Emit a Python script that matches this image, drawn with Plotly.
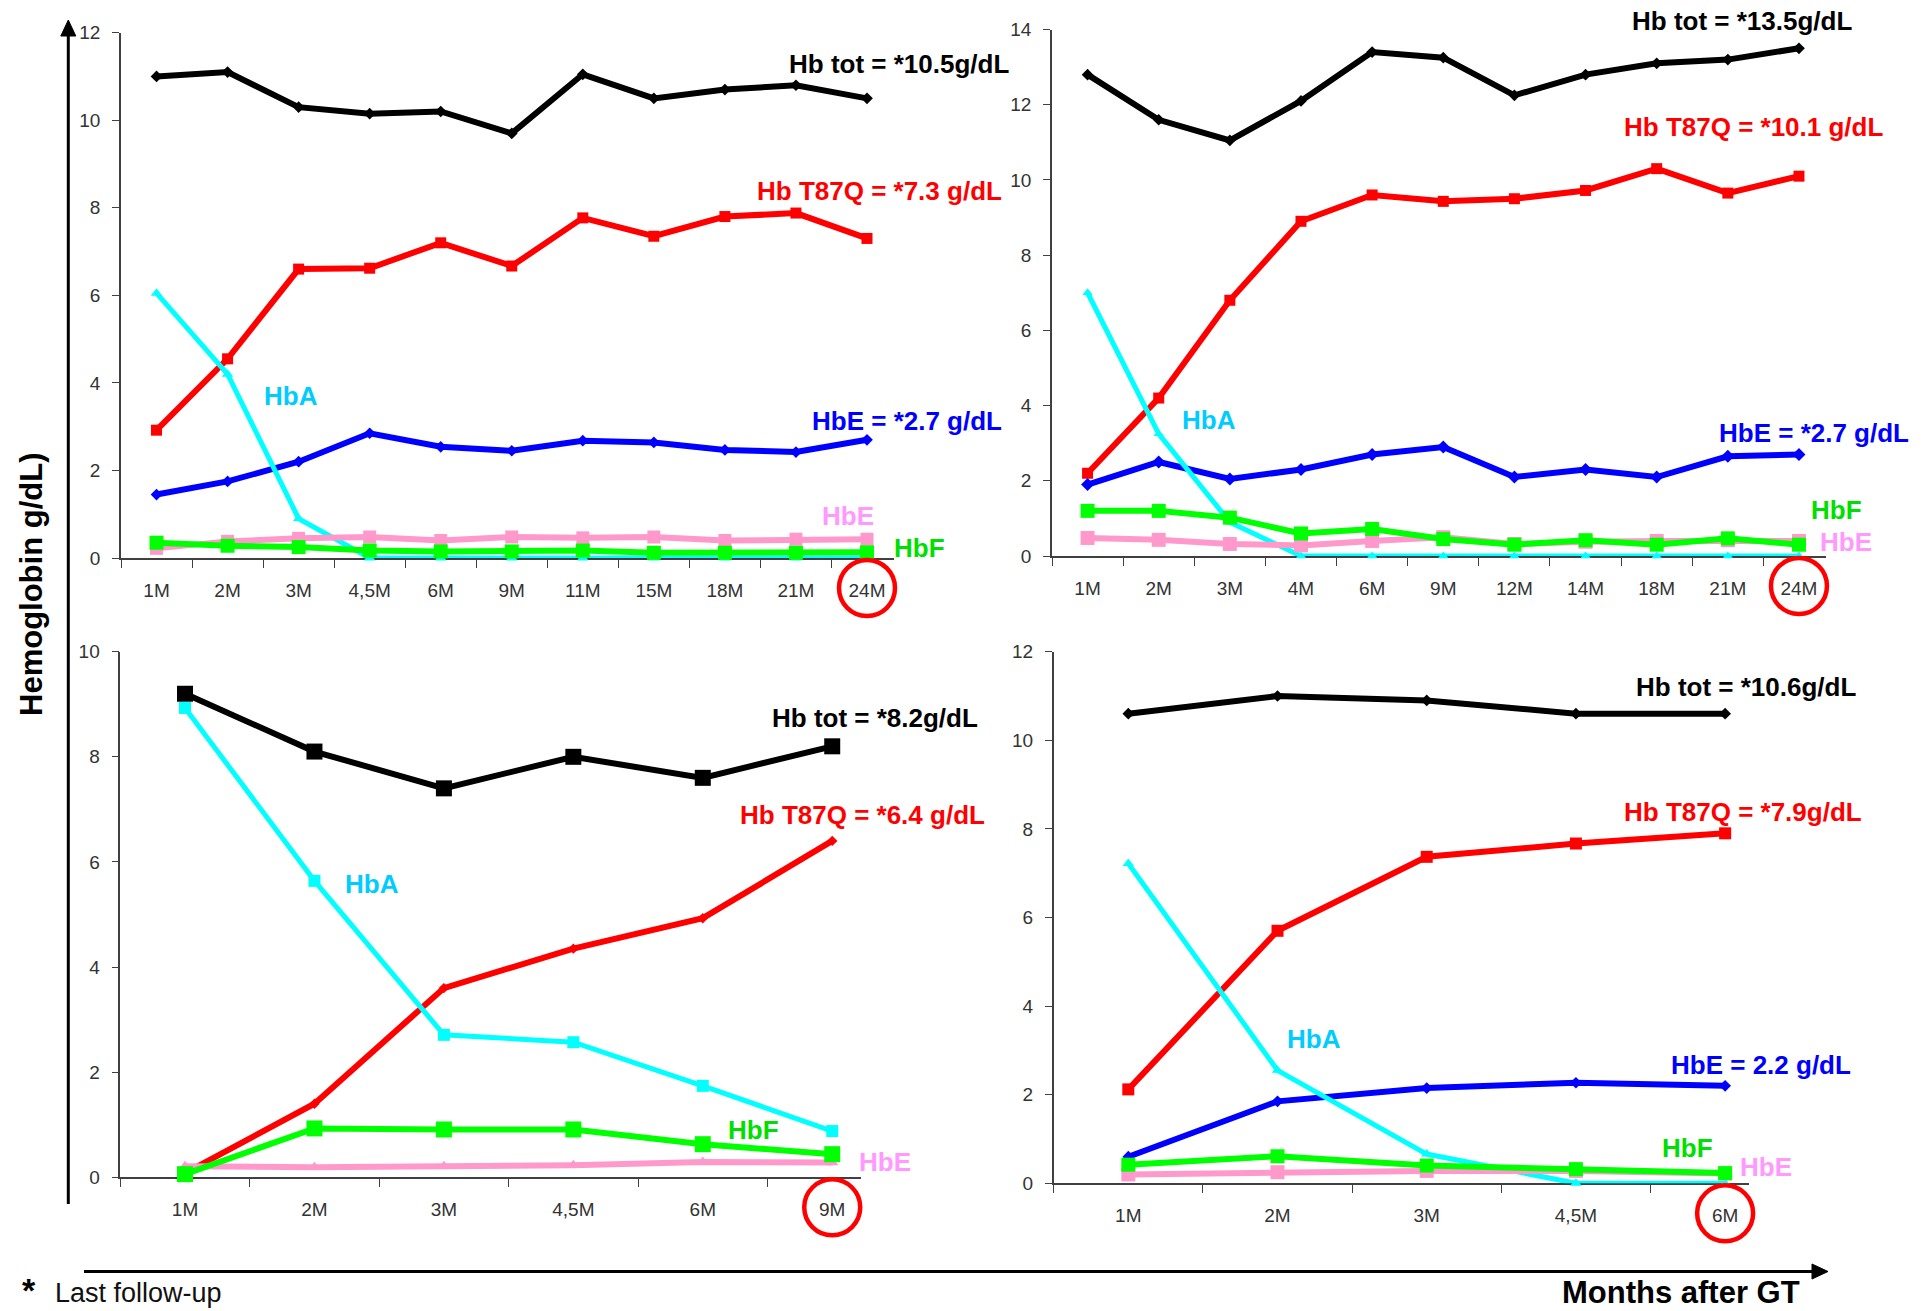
import plotly.graph_objects as go

W, H = 1928, 1311
FONT = "Liberation Sans, Arial, Helvetica, sans-serif"

# ---------------- data: hemoglobin fractions (g/dL) per follow-up visit ----------------
# Patient 1
p1_months = ["1M", "2M", "3M", "4,5M", "6M", "9M", "11M", "15M", "18M", "21M", "24M"]
p1_hb_tot = [11.0, 11.1, 10.3, 10.15, 10.2, 9.7, 11.05, 10.5, 10.7, 10.8, 10.5]
p1_hb_t87q = [2.92, 4.55, 6.6, 6.62, 7.2, 6.67, 7.77, 7.35, 7.8, 7.88, 7.3]
p1_hbe = [1.45, 1.75, 2.2, 2.85, 2.54, 2.45, 2.68, 2.64, 2.47, 2.42, 2.7]
p1_hba = [6.05, 4.2, 0.9, 0.0, 0.0, 0.0, 0.0, 0.0, 0.0, 0.0, 0.0]
p1_hbe_minor = [0.22, 0.38, 0.45, 0.48, 0.4, 0.48, 0.46, 0.48, 0.4, 0.43, 0.43]
p1_hbf = [0.35, 0.28, 0.25, 0.17, 0.15, 0.15, 0.17, 0.12, 0.12, 0.12, 0.13]

# Patient 2
p2_months = ["1M", "2M", "3M", "4M", "6M", "9M", "12M", "14M", "18M", "21M", "24M"]
p2_hb_tot = [12.8, 11.6, 11.05, 12.1, 13.4, 13.25, 12.25, 12.8, 13.1, 13.2, 13.5]
p2_hb_t87q = [2.2, 4.2, 6.8, 8.9, 9.6, 9.43, 9.5, 9.72, 10.3, 9.65, 10.1]
p2_hbe = [1.9, 2.5, 2.05, 2.3, 2.7, 2.9, 2.1, 2.3, 2.1, 2.65, 2.7]
p2_hba = [7.0, 3.25, 0.9, 0.0, 0.0, 0.0, 0.0, 0.0, 0.0, 0.0, 0.0]
p2_hbe_minor = [0.48, 0.43, 0.32, 0.28, 0.4, 0.5, 0.32, 0.38, 0.4, 0.42, 0.4]
p2_hbf = [1.2, 1.2, 1.02, 0.6, 0.72, 0.45, 0.3, 0.42, 0.3, 0.47, 0.3]

# Patient 3
p3_months = ["1M", "2M", "3M", "4,5M", "6M", "9M"]
p3_hb_tot = [9.2, 8.1, 7.4, 8.0, 7.6, 8.2]
p3_hb_t87q = [0.08, 1.4, 3.6, 4.35, 4.93, 6.4]
p3_hba = [8.93, 5.64, 2.71, 2.57, 1.74, 0.88]
p3_hbe_minor = [0.21, 0.19, 0.21, 0.23, 0.29, 0.28]
p3_hbf = [0.06, 0.93, 0.91, 0.91, 0.63, 0.44]

# Patient 4
p4_months = ["1M", "2M", "3M", "4,5M", "6M"]
p4_hb_tot = [10.6, 11.0, 10.9, 10.6, 10.6]
p4_hb_t87q = [2.12, 5.7, 7.37, 7.67, 7.9]
p4_hbe = [0.6, 1.85, 2.15, 2.27, 2.2]
p4_hba = [7.22, 2.55, 0.66, 0.0, 0.0]
p4_hbe_minor = [0.2, 0.25, 0.28, 0.28, 0.22]
p4_hbf = [0.42, 0.61, 0.4, 0.32, 0.23]

# ---------------- styling ----------------
LINE = {"tot": "#000000", "t87q": "#ff0000", "hbe": "#0000ff",
        "hba": "#00ffff", "minor": "#ff99cc", "hbf": "#00ff00"}
TEXT = {"tot": "#000000", "t87q": "#ff0000", "hbe": "#0000ff",
        "hba": "#00ccff", "minor": "#ff99ff", "hbf": "#00e000"}
AXIS_C = "#404040"


def px(x):
    return x / W


def py(y):
    return 1 - y / H


panels = [
    dict(months=p1_months, ymax=12,
         series=[("tot", p1_hb_tot, "diamond", 9), ("t87q", p1_hb_t87q, "square", 11),
                 ("hbe", p1_hbe, "diamond", 9), ("hba", p1_hba, "triangle-up", 10),
                 ("minor", p1_hbe_minor, "square", 13), ("hbf", p1_hbf, "square", 14)],
         xdom=(121, 894), ydom=(558, 32.7), xend=10.38,
         labels=[("tot", "Hb tot = *{:.1f}g/dL", 787, 64), ("t87q", "Hb T87Q = *{:.1f} g/dL", 755, 191),
                 ("hba", "HbA", 262, 396), ("hbe", "HbE = *{:.1f} g/dL", 810, 421),
                 ("minor", "HbE", 820, 516), ("hbf", "HbF", 892, 548)]),
    dict(months=p2_months, ymax=14,
         series=[("tot", p2_hb_tot, "diamond", 9), ("t87q", p2_hb_t87q, "square", 11),
                 ("hbe", p2_hbe, "diamond", 10), ("hba", p2_hba, "triangle-up", 9),
                 ("minor", p2_hbe_minor, "square", 14), ("hbf", p2_hbf, "square", 14)],
         xdom=(1052, 1826), ydom=(556, 29.5), xend=10.38,
         labels=[("tot", "Hb tot = *{:.1f}g/dL", 1630, 21), ("t87q", "Hb T87Q = *{:.1f} g/dL", 1622, 127),
                 ("hba", "HbA", 1180, 420), ("hbe", "HbE = *{:.1f} g/dL", 1717, 433),
                 ("hbf", "HbF", 1809, 510), ("minor", "HbE", 1818, 542)]),
    dict(months=p3_months, ymax=10,
         series=[("tot", p3_hb_tot, "square", 16), ("t87q", p3_hb_t87q, "diamond", 8),
                 ("hba", p3_hba, "square", 12),
                 ("minor", p3_hbe_minor, "triangle-up", 11), ("hbf", p3_hbf, "square", 16)],
         xdom=(120.3, 860.7), ydom=(1177.3, 651.7), xend=5.22,
         labels=[("tot", "Hb tot = *{:.1f}g/dL", 770, 718), ("t87q", "Hb T87Q = *{:.1f} g/dL", 738, 815),
                 ("hba", "HbA", 343, 884), ("hbf", "HbF", 726, 1130), ("minor", "HbE", 857, 1162)]),
    dict(months=p4_months, ymax=12,
         series=[("tot", p4_hb_tot, "diamond", 9), ("t87q", p4_hb_t87q, "square", 12),
                 ("hbe", p4_hbe, "diamond", 9), ("hba", p4_hba, "triangle-up", 10),
                 ("minor", p4_hbe_minor, "square", 14), ("hbf", p4_hbf, "square", 14)],
         xdom=(1053.7, 1749), ydom=(1183.3, 651.7), xend=4.16,
         labels=[("tot", "Hb tot = *{:.1f}g/dL", 1634, 687), ("t87q", "Hb T87Q = *{:.1f}g/dL", 1622, 812),
                 ("hba", "HbA", 1285, 1039), ("hbe", "HbE = {:.1f} g/dL", 1669, 1065),
                 ("hbf", "HbF", 1660, 1148), ("minor", "HbE", 1738, 1167)]),
]

fig = go.Figure()
annotations = []
shapes = []

for i, p in enumerate(panels, start=1):
    xa = "x" if i == 1 else f"x{i}"
    ya = "y" if i == 1 else f"y{i}"
    values = {}
    for key, ys, sym, msize in p["series"]:
        values[key] = ys
        fig.add_trace(go.Scatter(
            x=p["months"], y=ys, xaxis=xa, yaxis=ya, mode="lines+markers",
            line=dict(color=LINE[key], width=5 if key == "hba" else 6),
            marker=dict(symbol=sym, size=msize, color=LINE[key], line=dict(width=0)),
            cliponaxis=False, showlegend=False, hoverinfo="skip"))

    x0r, x1r = -0.5, p["xend"]
    fig.update_layout(**{
        ("xaxis" if i == 1 else f"xaxis{i}"): dict(
            domain=[px(p["xdom"][0]), px(p["xdom"][1])], anchor=ya,
            type="category", range=[x0r, x1r], tickson="boundaries",
            showline=True, linecolor=AXIS_C, linewidth=1.5, ticks="outside",
            ticklen=8, tickwidth=1.2, tickcolor=AXIS_C, showgrid=False, zeroline=False,
            tickfont=dict(family=FONT, size=19, color="#333333"), ticklabelstandoff=14,
            layer="below traces", fixedrange=True, automargin=False),
        ("yaxis" if i == 1 else f"yaxis{i}"): dict(
            domain=[py(p["ydom"][0]), py(p["ydom"][1])], anchor=xa,
            range=[0, p["ymax"]], tickvals=list(range(0, p["ymax"] + 1, 2)),
            showline=True, linecolor=AXIS_C, linewidth=1.5, ticks="outside",
            ticklen=7, tickwidth=1.2, tickcolor=AXIS_C, showgrid=False, zeroline=False,
            tickfont=dict(family=FONT, size=19, color="#333333"), ticklabelstandoff=8,
            layer="below traces", fixedrange=True, automargin=False),
    })

    # series labels, values taken from the last visit
    for key, fmt, lx, ly in p["labels"]:
        text = fmt.format(values[key][-1]) if "{" in fmt else fmt
        annotations.append(dict(
            text=f"<b>{text}</b>", x=px(lx), y=py(ly), xref="paper", yref="paper",
            xanchor="left", yanchor="middle", showarrow=False,
            font=dict(family=FONT, size=26, color=TEXT[key])))

    # red ring around the last follow-up tick label
    last = len(p["months"]) - 1
    shapes.append(dict(
        type="circle", xref=f"{xa} domain", yref=f"{ya} domain",
        xsizemode="pixel", ysizemode="pixel",
        xanchor=(last - x0r) / (x1r - x0r), yanchor=0,
        x0=-28, x1=28, y0=-58, y1=-2,
        line=dict(color="#ff0000", width=4.5)))

# overall axes with arrow heads
ARW = "#000000"
shapes += [
    dict(type="line", xref="paper", yref="paper", x0=px(68.3), x1=px(68.3), y0=py(1204), y1=py(34),
         line=dict(color=ARW, width=3)),
    dict(type="path", xref="paper", yref="paper",
         path=f"M{px(60.8)},{py(36)} L{px(68.3)},{py(20)} L{px(75.8)},{py(36)} Z",
         fillcolor=ARW, line=dict(color=ARW, width=1)),
    dict(type="line", xref="paper", yref="paper", x0=px(84), x1=px(1814), y0=py(1271.5), y1=py(1271.5),
         line=dict(color=ARW, width=3)),
    dict(type="path", xref="paper", yref="paper",
         path=f"M{px(1812)},{py(1264)} L{px(1828)},{py(1271.5)} L{px(1812)},{py(1279)} Z",
         fillcolor=ARW, line=dict(color=ARW, width=1)),
]

annotations += [
    dict(text="<b>Hemoglobin g/dL)</b>", x=px(31), y=py(585), xref="paper", yref="paper",
         textangle=-90, xanchor="center", yanchor="middle", showarrow=False,
         font=dict(family=FONT, size=31, color="#000000")),
    dict(text="<b>Months after GT</b>", x=px(1802), y=py(1292), xref="paper", yref="paper",
         xanchor="right", yanchor="middle", showarrow=False,
         font=dict(family=FONT, size=31, color="#000000")),
    dict(text="<b>*</b>", x=px(29), y=py(1290), xref="paper", yref="paper",
         xanchor="center", yanchor="middle", showarrow=False,
         font=dict(family=FONT, size=34, color="#000000")),
    dict(text="Last follow-up", x=px(53), y=py(1293), xref="paper", yref="paper",
         xanchor="left", yanchor="middle", showarrow=False,
         font=dict(family=FONT, size=27, color="#111111")),
]

fig.update_layout(
    width=W, height=H, margin=dict(l=0, r=0, t=0, b=0, pad=0, autoexpand=False),
    paper_bgcolor="#ffffff", plot_bgcolor="rgba(0,0,0,0)",
    annotations=annotations, shapes=shapes, showlegend=False,
    font=dict(family=FONT),
)

fig.write_html("out.html")
